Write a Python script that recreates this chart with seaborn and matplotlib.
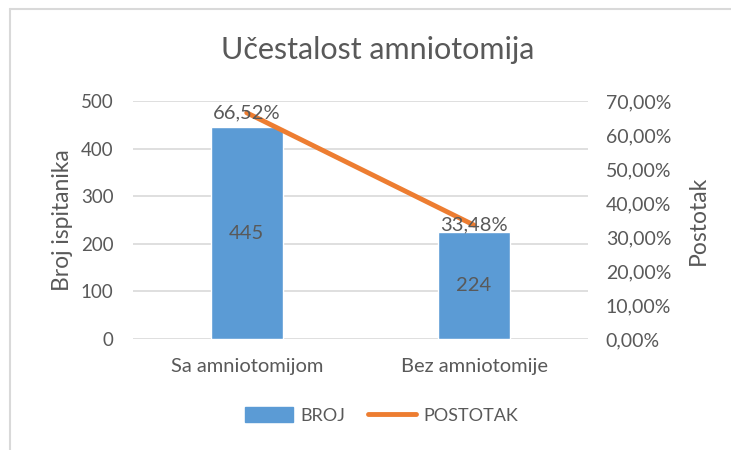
import matplotlib
matplotlib.use("Agg")
import matplotlib.pyplot as plt
import seaborn as sns
from matplotlib.lines import Line2D
from matplotlib.ticker import FuncFormatter, MultipleLocator

categories = ["Sa amniotomijom", "Bez amniotomije"]
broj = [445, 224]
postotak = [0.6652, 0.3348]
pct_labels = ["66,52%", "33,48%"]

sns.set_style("white")
plt.rcParams['font.family'] = ['Lato', 'DejaVu Sans']

txt = "#595959"
blue = "#5B9BD5"
orange = "#ED7D31"

fig = plt.figure(figsize=(7.31, 4.5), dpi=100)
ax = fig.add_axes([0.182, 0.2467, 0.622, 0.529])

sns.barplot(x=categories, y=broj, color=blue, width=0.316, ax=ax, saturation=1)
ax.set_xlim(-0.5, 1.5)
ax.set_ylim(0, 500)
ax.yaxis.set_major_locator(MultipleLocator(100))
ax.grid(axis="y", color="#d9d9d9", lw=1.2)
ax.set_axisbelow(True)
for s in ax.spines.values():
    s.set_visible(False)
ax.tick_params(axis="y", length=0, labelsize=13.5, colors=txt, pad=14)
ax.tick_params(axis="x", length=0, labelsize=14.5, colors=txt, pad=14)
ax.set_ylabel("Broj ispitanika", fontsize=16.5, color=txt, labelpad=6)

for i, v in enumerate(broj):
    ax.text(i, v / 2, str(v), ha="center", va="center", fontsize=14.5, color=txt)

ax2 = ax.twinx()
sns.lineplot(x=[0, 1], y=postotak, color=orange, lw=3.5, ax=ax2, legend=False)
ax2.set_ylim(0, 0.70)
ax2.yaxis.set_major_locator(MultipleLocator(0.1))
ax2.yaxis.set_major_formatter(FuncFormatter(lambda v, p: f"{v*100:.2f}%".replace(".", ",")))
for s in ax2.spines.values():
    s.set_visible(False)
ax2.tick_params(axis="y", length=0, labelsize=14, colors=txt, pad=13)
ax2.set_ylabel("Postotak", fontsize=16.5, color=txt, labelpad=12)
ax2.grid(False)

for i, (v, lab) in enumerate(zip(postotak, pct_labels)):
    ax2.text(i, v - 0.025, lab, ha="center", va="bottom", fontsize=14.5, color=txt)

fig.text(0.517, 0.888, "Učestalost amniotomija", ha="center", va="center",
         fontsize=22, color=txt)

handles = [plt.Rectangle((0, 0), 1, 1, color=blue),
           Line2D([0], [0], color=orange, lw=3.5, solid_capstyle="round")]
fig.legend(handles, ["BROJ", "POSTOTAK"], loc="center", bbox_to_anchor=(0.522, 0.076),
           ncol=2, frameon=False, fontsize=13, labelcolor=txt,
           handlelength=2.65, handleheight=0.9, columnspacing=1.3, handletextpad=0.4)

fig.add_artist(Line2D([0.0137, 0.0137], [0, 0.98], color="#d9d9d9", lw=1.5))
fig.add_artist(Line2D([0.0137, 1], [0.98, 0.98], color="#d9d9d9", lw=1.5))

fig.savefig("out.png", dpi=100)
